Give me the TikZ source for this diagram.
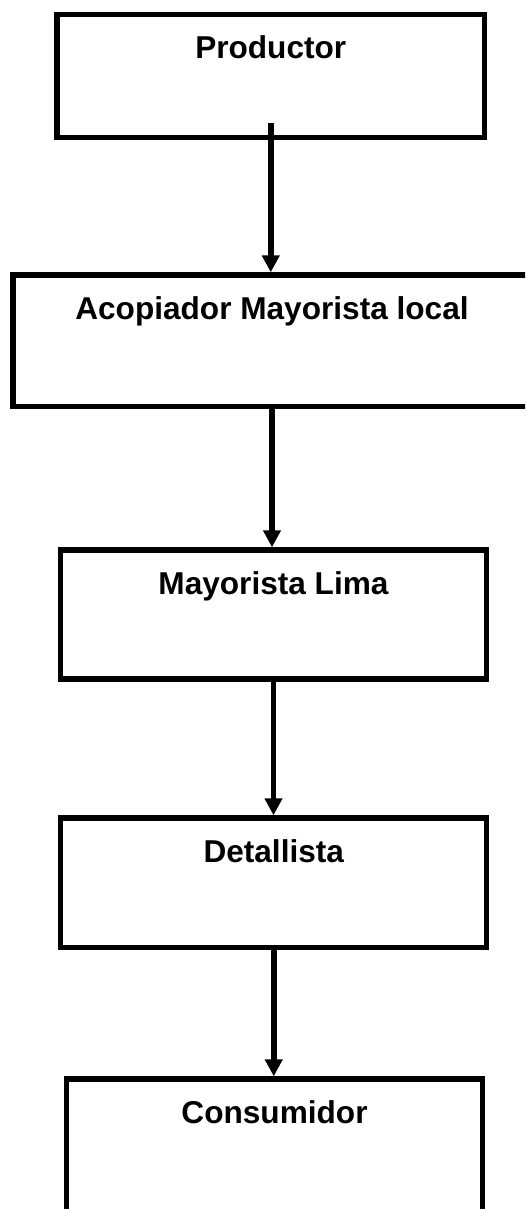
\documentclass[tikz,border=0pt]{standalone}
\usepackage{fontspec}
\setmainfont{Liberation Sans}
\usetikzlibrary{arrows.meta}

\begin{document}
\begin{tikzpicture}[x=0.5pt, y=-0.5pt, >={Triangle[length=8.5pt,width=8.5pt]},
  caja/.style={draw, rectangle, line width=2.7pt, inner sep=0pt, text height=22pt,
    font=\fontsize{15.8}{19}\selectfont\bfseries},
  flecha/.style={->, line width=2.9pt}]
  % Page frame (lower box and middle box run off the page)
  \useasboundingbox (0,0) rectangle (525,1209);
  \clip (0,0) rectangle (525,1209);

  % Boxes of the chain
  \node[caja, minimum width=213.75pt, text depth=39.5pt] (prod) at (270.75,76) {Productor};
  \node[caja, minimum width=259pt, text depth=43.75pt] (acop) at (272,340.75) {Acopiador Mayorista local};
  \node[caja, minimum width=213pt, text depth=42.5pt] (maylima) at (273.5,614.5) {Mayorista Lima};
  \node[caja, minimum width=213pt, text depth=42.75pt] (detal) at (273.75,882.75) {Detallista};
  \node[caja, minimum width=208pt, text depth=53pt] (consu) at (274.5,1154) {Consumidor};

  % Arrows between the boxes
  \draw[flecha] ([yshift=8.5pt]prod.south) -- (prod.south |- acop.north);
  \draw[flecha] (acop.south) -- (acop.south |- maylima.north);
  \draw[flecha] (maylima.south) -- (maylima.south |- detal.north);
  \draw[flecha] (detal.south) -- (detal.south |- consu.north);
\end{tikzpicture}
\end{document}
